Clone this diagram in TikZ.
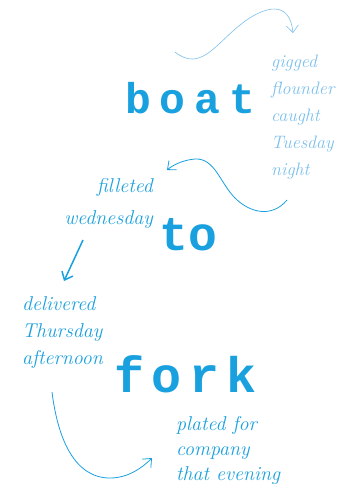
\documentclass[tikz,border=0pt]{standalone}
\usepackage{fontspec}
\newfontfamily\twb[LetterSpace=21]{Liberation Mono}
\newfontfamily\twf[LetterSpace=15]{Liberation Mono}
\newfontfamily\twt{Liberation Mono}
\usetikzlibrary{arrows.meta}
\definecolor{ink}{RGB}{25,160,222}
\definecolor{pale}{RGB}{125,192,236}
\tikzset{
  word/.style={inner sep=0pt, text=ink, anchor=base west},
  hand/.style={inner sep=0pt, text=ink, font=\itshape\fontsize{20}{#1}\selectfont},
  arr/.style={draw=ink, line width=#1, -{Straight Barb[length=7pt,width=12pt]}},
}
\begin{document}
\begin{tikzpicture}[x=1pt,y=-1pt]
\useasboundingbox (0,0) rectangle (348,496);
% main words
\node[word, font=\twb\bfseries\fontsize{43}{43}\selectfont] (boat) at (125,113) {boat};
\node[word, font=\twt\bfseries\fontsize{48}{48}\selectfont] (to) at (159,250) {to};
\node[word, font=\twf\bfseries\fontsize{50}{50}\selectfont] (fork) at (114,392) {fork};
% handwritten labels (base anchor = last line)
\node[inner sep=0pt, text=pale, align=left, anchor=base west, font=\itshape\fontsize{18}{27}\selectfont] (lab1) at (271,175) {gigged\\flounder\\caught\\Tuesday\\night};
\node[hand=32, align=right, anchor=base east] (lab2) at (153,224) {filleted\\wednesday};
\node[hand=27, align=left, anchor=base west] (lab3) at (22,364) {delivered\\Thursday\\afternoon};
\node[hand=25, align=left, anchor=base west] (lab4) at (176,480) {plated for\\company\\that evening};
% connector ends
\coordinate (a1) at (175,52);
\coordinate (a2) at (293,33);
\coordinate (b1) at (287,200);
\coordinate (b2) at (167,170);
\coordinate (c1) at (83,240);
\coordinate (c2) at (64,281);
\coordinate (d1) at (52,392);
\coordinate (d2) at (152,458);
% connectors
\draw[arr=0.6pt, draw=pale] (a1) .. controls (200,72) and (215,45) .. (240,25) .. controls (265,5) and (290,0) .. (a2);
\draw[arr=0.8pt] (b1) .. controls (272,218) and (250,213) .. (235,198) .. controls (220,183) and (215,158) .. (195,159) .. controls (183,160) and (173,165) .. (b2);
\draw[arr=1.5pt] (c1) -- (c2);
\draw[arr=0.8pt] (d1) .. controls (58,440) and (75,478) .. (110,478) .. controls (128,478) and (142,468) .. (d2);
\end{tikzpicture}
\end{document}
